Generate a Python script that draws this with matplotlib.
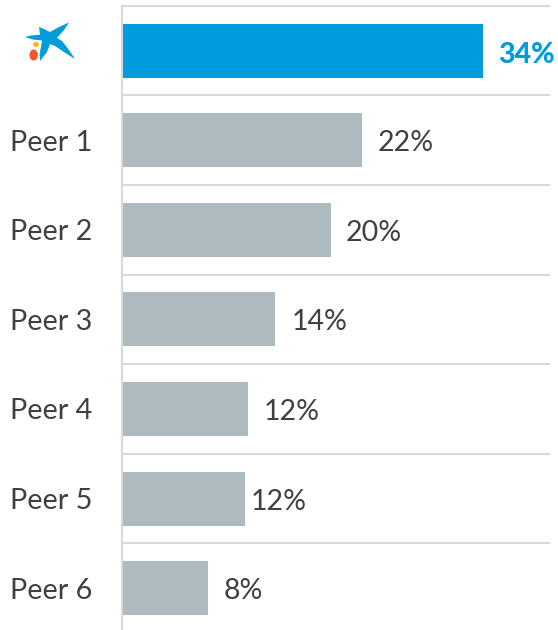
import matplotlib
matplotlib.use("Agg")
import matplotlib.pyplot as plt
from matplotlib.patches import Polygon, Ellipse
from matplotlib.transforms import Affine2D

categories = ["CaixaBank", "Peer 1", "Peer 2", "Peer 3", "Peer 4", "Peer 5", "Peer 6"]
tick_labels = ["", "Peer 1", "Peer 2", "Peer 3", "Peer 4", "Peer 5", "Peer 6"]
values = [34.0, 22.6, 19.6, 14.4, 11.8, 11.5, 8.0]
value_labels = ["34%", "22%", "20%", "14%", "12%", "12%", "8%"]
label_gaps_px = [15, 15.5, 15.5, 16, 16, 5.5, 15.5]

BLUE = "#009CDB"
GREY = "#ADBBC1"
RULE = "#D9D9D9"
TEXT = "#404040"
FONT = "Lato"
W, H = 558, 630

fig = plt.figure(figsize=(W / 100, H / 100), dpi=100, facecolor="white")
left, right, top, bottom = 123, 549, 5.7, 630
ax = fig.add_axes([left / W, 1 - bottom / H, (right - left) / W, (bottom - top) / H])
px_per_unit = 360 / 34
row = 89.6
ax.set_xlim(0, (right - left) / px_per_unit)
ax.set_ylim((bottom - 50.5) / row, -0.5)

ypos = list(range(len(categories)))
colors = [BLUE] + [GREY] * (len(categories) - 1)
ax.barh(ypos, values, height=54 / row, color=colors, linewidth=0, zorder=3)

for y in ypos:
    ax.axhline(y - 0.5, color=RULE, lw=1.5, zorder=1, clip_on=False)

for s in ("top", "right", "bottom"):
    ax.spines[s].set_visible(False)
ax.spines["left"].set_color(RULE)
ax.spines["left"].set_linewidth(1.5)
ax.spines["left"].set_position(("outward", 0.5))
ax.set_xticks([])
ax.set_yticks(ypos)
ax.set_yticklabels(tick_labels, family=FONT, fontsize=20.8, color=TEXT)
ax.tick_params(axis="y", length=0, pad=21.5)

for y, v, lab, gap, c in zip(ypos, values, value_labels, label_gaps_px, colors):
    is_top = c == BLUE
    ax.annotate(lab, (v, y), xytext=(gap * 0.72, -3.2 if is_top else -2.2),
                textcoords="offset points", va="center", ha="left",
                family=FONT, fontsize=20.5, fontweight="black" if is_top else "normal",
                color=BLUE if is_top else TEXT, zorder=4)

# Logo drawn in reference pixel space
logo_tf = Affine2D().scale(1, -1).translate(0, H)
star = [(25, 37), (31, 35.5), (40, 34.8), (39, 27), (44, 29), (50, 32), (60, 26.5),
        (69, 22.5), (64, 30), (57, 38), (62, 41), (69, 50), (75, 59), (67, 54),
        (55, 46), (50, 44), (47, 52), (40, 61), (39.5, 54), (41, 47), (42, 40.5), (33, 39.5)]
fig.add_artist(Polygon(star, closed=True, facecolor=BLUE, edgecolor="none", transform=logo_tf))
fig.add_artist(Ellipse((36, 44.5), 6, 5, facecolor="#FDB913", edgecolor="none", transform=logo_tf))
fig.add_artist(Ellipse((33.7, 55), 8.5, 11, facecolor="#EE5A2B", edgecolor="none", transform=logo_tf))

fig.savefig("out.png", dpi=100)
